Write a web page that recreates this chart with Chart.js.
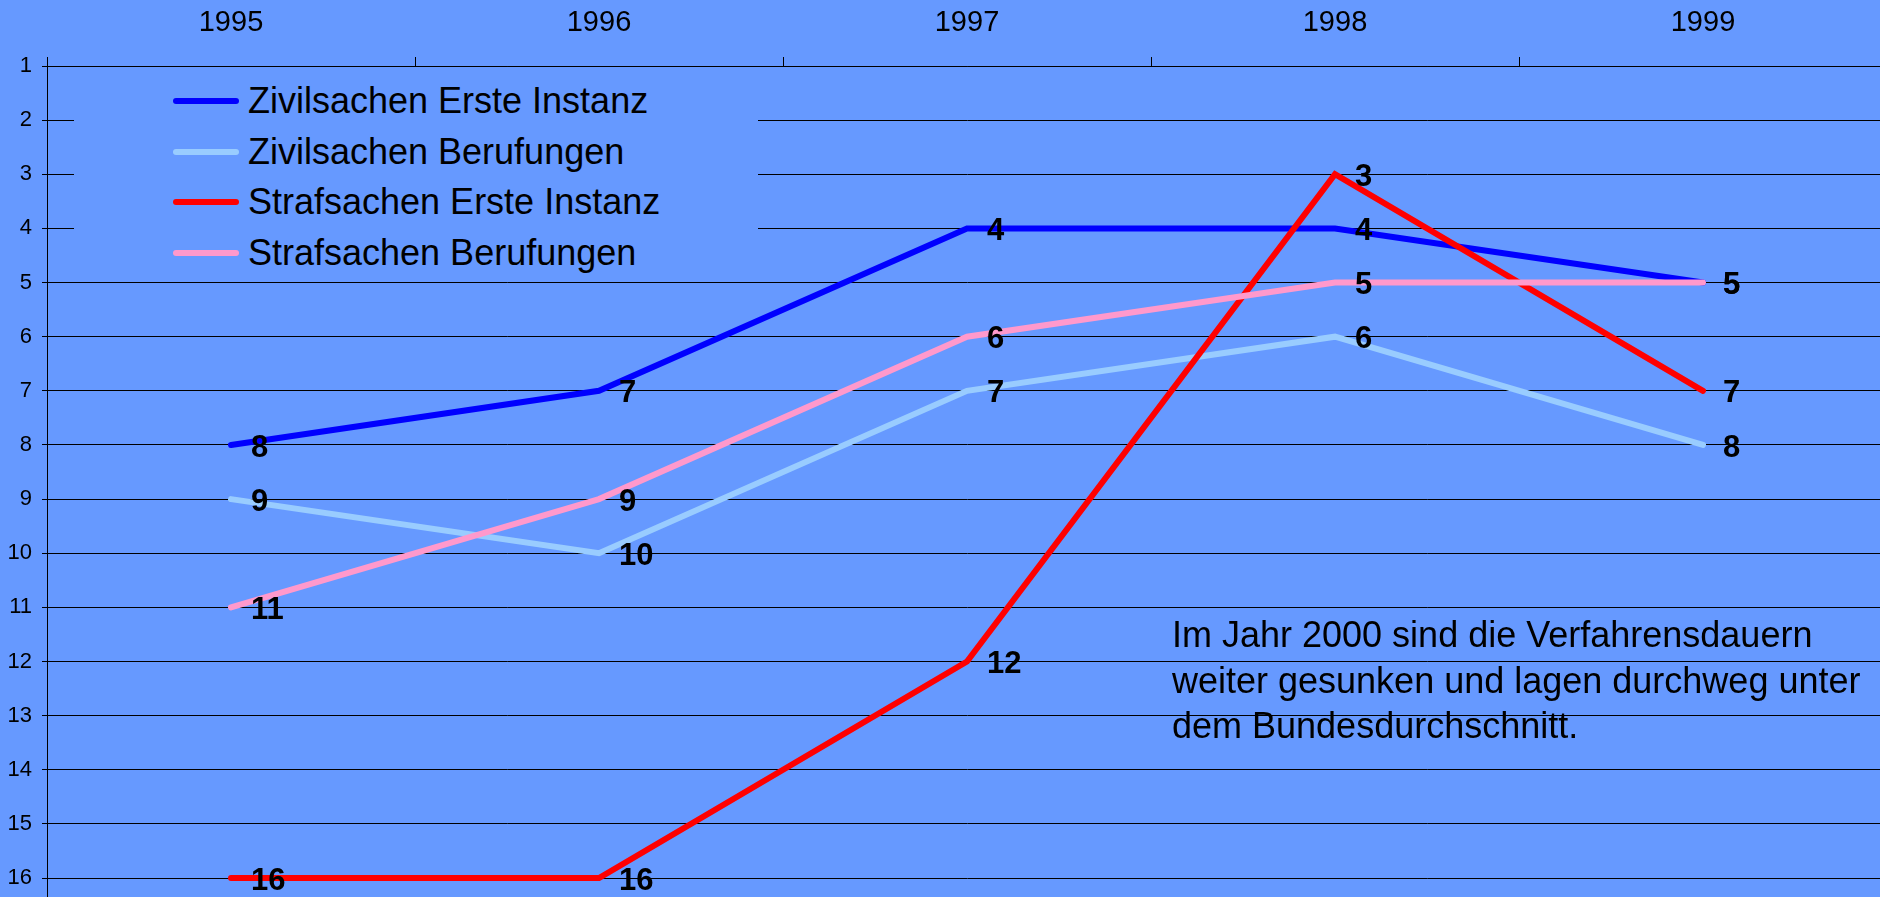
<!DOCTYPE html>
<html>
<head>
<meta charset="utf-8">
<script src="https://cdn.jsdelivr.net/npm/chart.js@4/dist/chart.umd.min.js"></script>
<style>
  html, body { margin: 0; padding: 0; background: #6699ff; overflow: hidden; }
  body { width: 1880px; height: 897px; position: relative; font-family: "Liberation Sans", Arial, sans-serif; }
  #wrap { position: absolute; left: 0; top: 0; width: 1890px; height: 897px; }
  #legend { position: absolute; left: 74px; top: 70px; width: 684px; height: 208px; background: #6699ff; }
  .item { position: absolute; left: 0; height: 50px; display: flex; align-items: center; font-size: 36px; color: #000; white-space: nowrap; }
  .swatch { width: 66px; height: 6px; border-radius: 3px; margin-left: 99px; margin-right: 9px; }
  #note { position: absolute; left: 1172px; top: 612px; font-size: 36px; line-height: 45.5px; color: #000; white-space: nowrap; }
</style>
</head>
<body>
<div id="wrap"><canvas id="durations"></canvas></div>
<div id="legend"></div>
<div id="note">Im Jahr 2000 sind die Verfahrensdauern<br>weiter gesunken und lagen durchweg unter<br>dem Bundesdurchschnitt.</div>
<script>
// years and ranking of the court durations (1 = shortest)
const years = ["1995", "1996", "1997", "1998", "1999"];
const seriesNames = ["Zivilsachen Erste Instanz", "Zivilsachen Berufungen", "Strafsachen Erste Instanz", "Strafsachen Berufungen"];
const zivilErste = [8, 7, 4, 4, 5];
const zivilBerufung = [9, 10, 7, 6, 8];
const strafErste = [16, 16, 12, 3, 7];
const strafBerufung = [11, 9, 6, 5, 5];
const rankTicks = [1, 2, 3, 4, 5, 6, 7, 8, 9, 10, 11, 12, 13, 14, 15, 16];
const colors = ["#0000ff", "#99ccff", "#ff0000", "#ff99cc"];

const FONT = '"Liberation Sans", Arial, sans-serif';

// numbers next to every point
const valueLabels = {
  id: "valueLabels",
  afterDatasetsDraw(chart) {
    const ctx = chart.ctx;
    ctx.save();
    ctx.font = "bold 31px " + FONT;
    ctx.fillStyle = "#000";
    ctx.textAlign = "left";
    ctx.textBaseline = "middle";
    chart.data.datasets.forEach((ds, i) => {
      const meta = chart.getDatasetMeta(i);
      meta.data.forEach((pt, j) => {
        ctx.fillText(String(ds.data[j]), pt.x + 20, pt.y + 3);
      });
    });
    ctx.restore();
  }
};

const allData = [zivilErste, zivilBerufung, strafErste, strafBerufung];
const datasets = allData.map((d, i) => ({
  label: seriesNames[i],
  data: d,
  borderColor: colors[i],
  backgroundColor: colors[i],
  borderWidth: 6,
  borderCapStyle: "round",
  pointRadius: 0,
  tension: 0,
  order: 4 - i // later series on top
}));

new Chart("durations", {
  type: "line",
  data: { labels: years, datasets: datasets },
  plugins: [valueLabels],
  options: {
    responsive: true,
    maintainAspectRatio: false,
    animation: false,
    layout: { padding: { left: 0, top: 0, right: 3, bottom: 0 } },
    plugins: { legend: { display: false }, tooltip: { enabled: false } },
    scales: {
      x: {
        position: "top",
        offset: true,
        grid: { offset: true, drawOnChartArea: false, drawTicks: true, tickLength: 9, color: "#000" },
        border: { display: true, color: "#000" },
        ticks: { color: "#000", font: { family: FONT, size: 29 }, padding: 17, maxRotation: 0 },
        afterFit(scale) { scale.height = 66; }
      },
      y: {
        reverse: true,
        min: 1,
        max: 16.35,
        ticks: { color: "#000", font: { family: FONT, size: 22 }, padding: 10 },
        grid: { color: "#000", lineWidth: 1, tickLength: 5 },
        border: { display: true, color: "#000" },
        afterBuildTicks(scale) { scale.ticks = rankTicks.map(v => ({ value: v })); },
        afterFit(scale) {
          scale.width = 47;
          scale.paddingTop = 0;
          scale.paddingBottom = 0;
        }
      }
    }
  }
});

// legend built from the series names and colours
const legend = document.getElementById("legend");
seriesNames.forEach((name, i) => {
  const row = document.createElement("div");
  row.className = "item";
  row.style.top = (6 + i * 50.7) + "px";
  const sw = document.createElement("span");
  sw.className = "swatch";
  sw.style.background = colors[i];
  row.appendChild(sw);
  row.appendChild(document.createTextNode(name));
  legend.appendChild(row);
});
</script>
</body>
</html>
